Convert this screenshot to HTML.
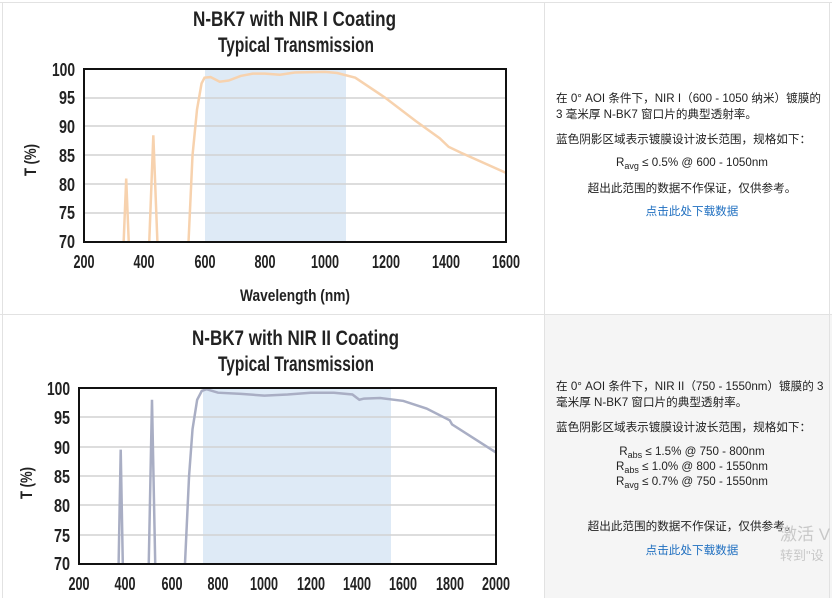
<!DOCTYPE html>
<html><head><meta charset="utf-8"><style>
body{margin:0;width:832px;height:598px;overflow:hidden;background:#fff;font-family:"Liberation Sans","Noto Sans CJK SC",sans-serif;}
.t{font-family:"Liberation Sans",sans-serif;font-weight:bold;fill:#222;}
.p{position:absolute;left:556px;width:276px;font-size:11.6px;color:#222;line-height:16px;font-family:"Liberation Sans","Noto Sans CJK SC",sans-serif;}
.c{text-align:center;}
.a{color:#1f6fc0;}
sub{font-size:9px;vertical-align:-3px;line-height:0;}
</style></head><body>
<div style="position:absolute;left:545px;top:315px;width:287px;height:283px;background:#f5f5f5"></div>
<div style="position:absolute;left:0;top:2px;width:832px;height:1px;background:#e2e2e2"></div>
<div style="position:absolute;left:0;top:314px;width:832px;height:1px;background:#e2e2e2"></div>
<div style="position:absolute;left:2px;top:2px;width:1px;height:596px;background:#e2e2e2"></div>
<div style="position:absolute;left:544px;top:2px;width:1px;height:596px;background:#e2e2e2"></div>
<div style="position:absolute;left:829px;top:2px;width:1px;height:596px;background:#e2e2e2"></div>
<svg width="832" height="598" style="position:absolute;left:0;top:0">
<defs><clipPath id="c1"><rect x="84" y="69" width="422" height="173"/></clipPath><clipPath id="c2"><rect x="79" y="388" width="417" height="176"/></clipPath></defs>
<!-- chart 1 -->
<text class="t" x="193" y="26" font-size="21" textLength="203" lengthAdjust="spacingAndGlyphs">N-BK7 with NIR I Coating</text>
<text class="t" x="218" y="52" font-size="21" textLength="156" lengthAdjust="spacingAndGlyphs">Typical Transmission</text>
<rect x="205" y="69" width="141" height="173" fill="#deeaf6"/>
<g stroke="#d2d2d2" stroke-width="1.5"><line x1="84" x2="506" y1="98" y2="98"/><line x1="84" x2="506" y1="126" y2="126"/><line x1="84" x2="506" y1="155" y2="155"/><line x1="84" x2="506" y1="184" y2="184"/><line x1="84" x2="506" y1="213" y2="213"/></g>
<g clip-path="url(#c1)"><g transform="translate(23.72,645.7) scale(0.3014,-5.767)" fill="none" stroke="#f7d2ae" stroke-width="2.5">
<polyline vector-effect="non-scaling-stroke" points="330,68 340,81 350,68"/>
<polyline vector-effect="non-scaling-stroke" points="415,68 430,88.5 445,68"/>
<polyline vector-effect="non-scaling-stroke" points="545,68 560,85 575,93 590,97.5 600,98.5 620,98.6 650,97.8 680,98 720,98.8 760,99.2 800,99.2 850,99 900,99.4 1000,99.5 1040,99.3 1100,98.5 1200,95 1300,91 1380,88 1410,86.5 1450,85.5 1600,82"/>
</g></g>
<rect x="84" y="69" width="422" height="173" fill="none" stroke="#111" stroke-width="2"/>
<g class="t" font-size="18" text-anchor="end"><text x="75" y="76" textLength="23" lengthAdjust="spacingAndGlyphs">100</text><text x="75" y="104" textLength="16" lengthAdjust="spacingAndGlyphs">95</text><text x="75" y="133" textLength="16" lengthAdjust="spacingAndGlyphs">90</text><text x="75" y="162" textLength="16" lengthAdjust="spacingAndGlyphs">85</text><text x="75" y="191" textLength="16" lengthAdjust="spacingAndGlyphs">80</text><text x="75" y="219" textLength="16" lengthAdjust="spacingAndGlyphs">75</text><text x="75" y="248" textLength="16" lengthAdjust="spacingAndGlyphs">70</text></g>
<g class="t" font-size="18" text-anchor="middle"><text x="84" y="268" textLength="21" lengthAdjust="spacingAndGlyphs">200</text><text x="144" y="268" textLength="21" lengthAdjust="spacingAndGlyphs">400</text><text x="205" y="268" textLength="21" lengthAdjust="spacingAndGlyphs">600</text><text x="265" y="268" textLength="21" lengthAdjust="spacingAndGlyphs">800</text><text x="325" y="268" textLength="28" lengthAdjust="spacingAndGlyphs">1000</text><text x="386" y="268" textLength="28" lengthAdjust="spacingAndGlyphs">1200</text><text x="446" y="268" textLength="28" lengthAdjust="spacingAndGlyphs">1400</text><text x="506" y="268" textLength="28" lengthAdjust="spacingAndGlyphs">1600</text></g>
<text class="t" x="240" y="301" font-size="17" textLength="110" lengthAdjust="spacingAndGlyphs">Wavelength (nm)</text>
<text class="t" font-size="17" text-anchor="middle" transform="translate(36,160) rotate(-90)" textLength="32" lengthAdjust="spacingAndGlyphs">T (%)</text>
<!-- chart 2 -->
<text class="t" x="192" y="345" font-size="21" textLength="207" lengthAdjust="spacingAndGlyphs">N-BK7 with NIR II Coating</text>
<text class="t" x="218" y="371" font-size="21" textLength="156" lengthAdjust="spacingAndGlyphs">Typical Transmission</text>
<rect x="203" y="388" width="188" height="176" fill="#deeaf6"/>
<g stroke="#d2d2d2" stroke-width="1.5"><line x1="79" x2="496" y1="417" y2="417"/><line x1="79" x2="496" y1="447" y2="447"/><line x1="79" x2="496" y1="476" y2="476"/><line x1="79" x2="496" y1="505" y2="505"/><line x1="79" x2="496" y1="535" y2="535"/></g>
<g clip-path="url(#c2)"><g transform="translate(32.66,975) scale(0.2317,-5.87)" fill="none" stroke="#a9aec4" stroke-width="2.5">
<polyline vector-effect="non-scaling-stroke" points="370,68 380,89.5 390,68"/>
<polyline vector-effect="non-scaling-stroke" points="500,68 515,98 530,68"/>
<polyline vector-effect="non-scaling-stroke" points="655,68 675,85 690,93 710,98 730,99.5 750,99.8 800,99.2 900,99 1000,98.7 1100,98.9 1200,99.2 1300,99.2 1380,98.9 1410,98 1430,98.2 1500,98.3 1600,97.8 1700,96.5 1800,94.5 1810,93.8 2000,89"/>
</g></g>
<rect x="79" y="388" width="417" height="176" fill="none" stroke="#111" stroke-width="2"/>
<g class="t" font-size="18" text-anchor="end"><text x="70" y="395" textLength="23" lengthAdjust="spacingAndGlyphs">100</text><text x="70" y="424" textLength="16" lengthAdjust="spacingAndGlyphs">95</text><text x="70" y="454" textLength="16" lengthAdjust="spacingAndGlyphs">90</text><text x="70" y="483" textLength="16" lengthAdjust="spacingAndGlyphs">85</text><text x="70" y="512" textLength="16" lengthAdjust="spacingAndGlyphs">80</text><text x="70" y="542" textLength="16" lengthAdjust="spacingAndGlyphs">75</text><text x="70" y="570" textLength="16" lengthAdjust="spacingAndGlyphs">70</text></g>
<g class="t" font-size="18" text-anchor="middle"><text x="79" y="590" textLength="21" lengthAdjust="spacingAndGlyphs">200</text><text x="125" y="590" textLength="21" lengthAdjust="spacingAndGlyphs">400</text><text x="172" y="590" textLength="21" lengthAdjust="spacingAndGlyphs">600</text><text x="218" y="590" textLength="21" lengthAdjust="spacingAndGlyphs">800</text><text x="264" y="590" textLength="28" lengthAdjust="spacingAndGlyphs">1000</text><text x="311" y="590" textLength="28" lengthAdjust="spacingAndGlyphs">1200</text><text x="357" y="590" textLength="28" lengthAdjust="spacingAndGlyphs">1400</text><text x="403" y="590" textLength="28" lengthAdjust="spacingAndGlyphs">1600</text><text x="450" y="590" textLength="28" lengthAdjust="spacingAndGlyphs">1800</text><text x="496" y="590" textLength="28" lengthAdjust="spacingAndGlyphs">2000</text></g>
<text class="t" font-size="17" text-anchor="middle" transform="translate(32,483) rotate(-90)" textLength="32" lengthAdjust="spacingAndGlyphs">T (%)</text>
</svg>
<div class="p" style="top:91px;width:274px">在 0° AOI 条件下，NIR I（600 - 1050 纳米）镀膜的 3 毫米厚 N-BK7 窗口片的典型透射率。</div>
<div class="p" style="top:132px">蓝色阴影区域表示镀膜设计波长范围，规格如下：</div>
<div class="p c" style="top:155px;left:581px;width:222px">R<sub>avg</sub> ≤ 0.5% @ 600 - 1050nm</div>
<div class="p c" style="top:181px;left:581px;width:222px">超出此范围的数据不作保证，仅供参考。</div>
<div class="p c a" style="top:204px;left:581px;width:222px">点击此处下载数据</div>
<div class="p" style="top:379px;width:274px">在 0° AOI 条件下，NIR II（750 - 1550nm）镀膜的 3 毫米厚 N-BK7 窗口片的典型透射率。</div>
<div class="p" style="top:420px">蓝色阴影区域表示镀膜设计波长范围，规格如下：</div>
<div class="p c" style="top:444px;left:581px;width:222px;line-height:15px">R<sub>abs</sub> ≤ 1.5% @ 750 - 800nm<br>R<sub>abs</sub> ≤ 1.0% @ 800 - 1550nm<br>R<sub>avg</sub> ≤ 0.7% @ 750 - 1550nm</div>
<div class="p c" style="top:519px;left:581px;width:222px">超出此范围的数据不作保证，仅供参考。</div>
<div class="p c a" style="top:543px;left:581px;width:222px">点击此处下载数据</div>
<div style="position:absolute;left:780px;top:520px;font-size:17px;color:#c8c8c8;white-space:nowrap">激活 V</div>
<div style="position:absolute;left:780px;top:545px;font-size:13px;color:#c8c8c8;white-space:nowrap">转到"设</div>
</body></html>
